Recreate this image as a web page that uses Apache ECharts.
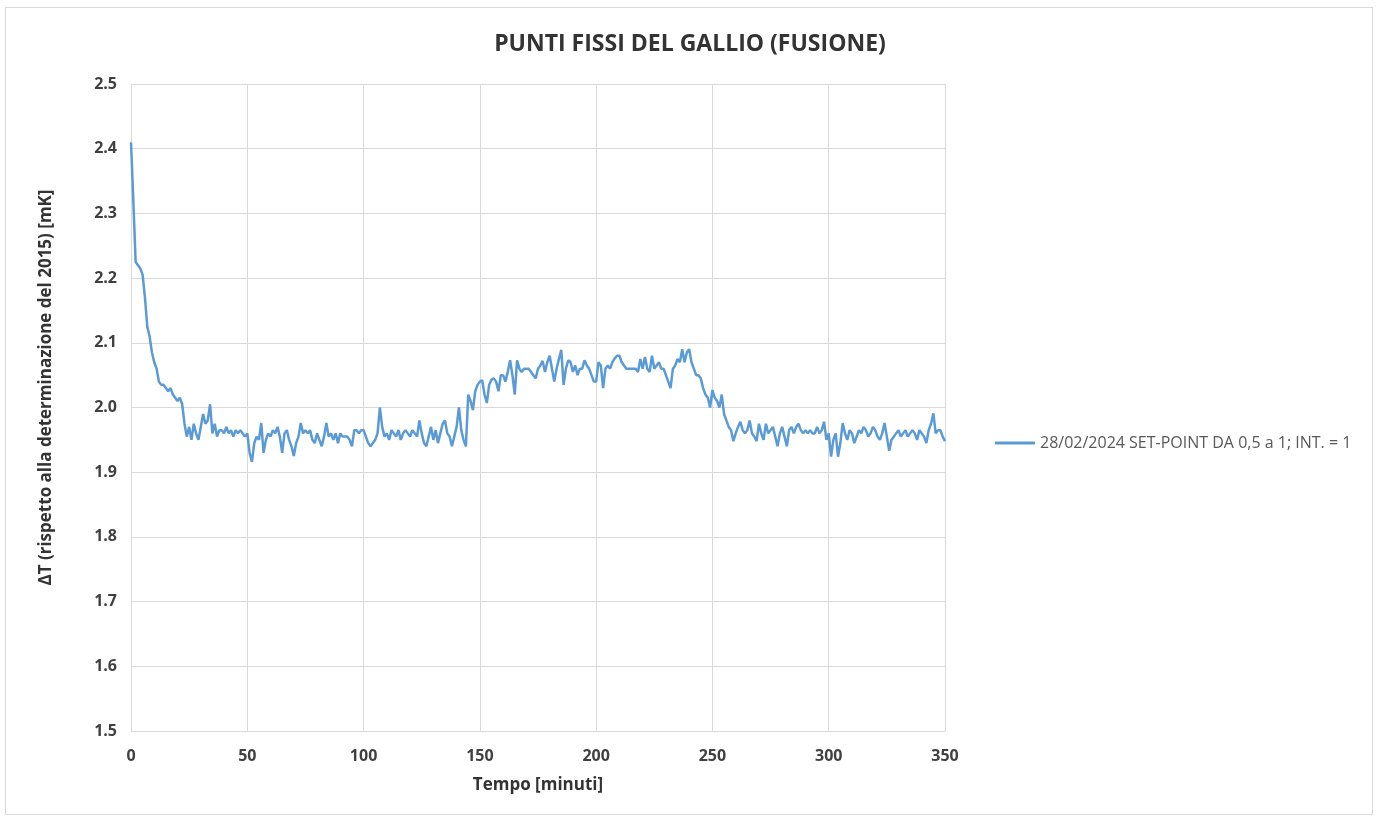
<!DOCTYPE html>
<html>
<head>
<meta charset="utf-8">
<title>Punti fissi del gallio</title>
<script src="https://cdn.jsdelivr.net/npm/echarts@6/dist/echarts.min.js"></script>
<style>
  html, body { margin: 0; padding: 0; background: #fff; }
  #chart { width: 1380px; height: 821px; }
  #frame { position: absolute; left: 5px; top: 7px; width: 1366px; height: 806px;
           border: 1px solid #d9d9d9; pointer-events: none; }
</style>
</head>
<body>
<div id="chart"></div>
<div id="frame"></div>
<script>
// tempo in minuti: un punto al minuto, da 0 a 350
var deltaT = [
  2.41, 2.32, 2.225, 2.22, 2.215, 2.205, 2.17, 2.125, 2.11, 2.085,
  2.07, 2.06, 2.04, 2.035, 2.035, 2.03, 2.025, 2.03, 2.02, 2.015,
  2.01, 2.015, 2.005, 1.975, 1.955, 1.97, 1.95, 1.975, 1.96, 1.95,
  1.97, 1.99, 1.975, 1.98, 2.005, 1.96, 1.975, 1.955, 1.965, 1.965,
  1.96, 1.97, 1.96, 1.965, 1.955, 1.965, 1.96, 1.965, 1.96, 1.955,
  1.96, 1.93, 1.916, 1.945, 1.955, 1.95, 1.976, 1.93, 1.95, 1.96,
  1.955, 1.965, 1.96, 1.97, 1.955, 1.93, 1.96, 1.965, 1.95, 1.94,
  1.925, 1.945, 1.955, 1.976, 1.96, 1.965, 1.96, 1.965, 1.95, 1.945,
  1.96, 1.95, 1.94, 1.955, 1.976, 1.955, 1.96, 1.95, 1.96, 1.945,
  1.96, 1.955, 1.955, 1.955, 1.95, 1.94, 1.965, 1.965, 1.96, 1.965,
  1.965, 1.955, 1.945, 1.94, 1.945, 1.95, 1.96, 2.0, 1.97, 1.955,
  1.96, 1.95, 1.965, 1.96, 1.955, 1.965, 1.95, 1.96, 1.965, 1.96,
  1.955, 1.965, 1.96, 1.955, 1.98, 1.96, 1.945, 1.94, 1.955, 1.97,
  1.95, 1.965, 1.945, 1.96, 1.975, 1.98, 1.96, 1.955, 1.94, 1.955,
  1.97, 2.0, 1.965, 1.95, 1.94, 2.02, 2.01, 1.996, 2.025, 2.035,
  2.04, 2.042, 2.02, 2.007, 2.035, 2.043, 2.045, 2.04, 2.025, 2.05,
  2.05, 2.04, 2.055, 2.073, 2.05, 2.02, 2.073, 2.06, 2.055, 2.06,
  2.06, 2.06, 2.055, 2.05, 2.045, 2.06, 2.065, 2.072, 2.055, 2.07,
  2.08, 2.06, 2.04, 2.06, 2.075, 2.089, 2.035, 2.06, 2.073, 2.07,
  2.055, 2.065, 2.05, 2.06, 2.06, 2.073, 2.065, 2.06, 2.05, 2.04,
  2.04, 2.07, 2.065, 2.03, 2.06, 2.065, 2.06, 2.07, 2.076, 2.08,
  2.08, 2.07, 2.065, 2.06, 2.06, 2.06, 2.06, 2.06, 2.055, 2.075,
  2.06, 2.078, 2.06, 2.055, 2.08, 2.06, 2.065, 2.07, 2.06, 2.06,
  2.05, 2.04, 2.03, 2.06, 2.065, 2.075, 2.07, 2.09, 2.07, 2.085,
  2.09, 2.07, 2.06, 2.05, 2.05, 2.045, 2.03, 2.02, 2.015, 2.0,
  2.027, 2.015, 2.01, 2.0, 2.02, 1.99, 1.98, 1.97, 1.965, 1.948,
  1.96, 1.97, 1.978, 1.965, 1.96, 1.965, 1.98, 1.96, 1.955, 1.948,
  1.975, 1.96, 1.95, 1.975, 1.96, 1.965, 1.97, 1.955, 1.94, 1.96,
  1.97, 1.955, 1.94, 1.965, 1.97, 1.96, 1.97, 1.975, 1.965, 1.96,
  1.965, 1.96, 1.965, 1.96, 1.96, 1.97, 1.96, 1.965, 1.978, 1.95,
  1.96, 1.924, 1.95, 1.96, 1.924, 1.945, 1.976, 1.96, 1.95, 1.965,
  1.96, 1.945, 1.955, 1.965, 1.96, 1.97, 1.965, 1.955, 1.96, 1.97,
  1.965, 1.955, 1.95, 1.96, 1.976, 1.955, 1.933, 1.95, 1.955, 1.96,
  1.965, 1.955, 1.96, 1.965, 1.955, 1.96, 1.965, 1.96, 1.95, 1.965,
  1.96, 1.955, 1.945, 1.965, 1.975, 1.991, 1.96, 1.965, 1.965, 1.955,
  1.948
];
var serieName = "28/02/2024 SET-POINT DA 0,5 a 1; INT. = 1";

var punti = [];
for (var i = 0; i < deltaT.length; i++) {
  punti.push([i, deltaT[i]]);
}

var chart = echarts.init(document.getElementById("chart"));
chart.setOption({
  animation: false,
  textStyle: { fontFamily: "Open Sans" },
  title: {
    text: "PUNTI FISSI DEL GALLIO (FUSIONE)",
    left: "center",
    top: 28,
    textStyle: { color: "#333333", fontSize: 23, fontWeight: "bold", fontFamily: "Open Sans" }
  },
  legend: {
    orient: "vertical",
    left: 990,
    top: 430,
    icon: "rect",
    itemWidth: 40,
    itemHeight: 3,
    itemGap: 5,
    textStyle: { color: "#595959", fontSize: 16 },
    data: [serieName]
  },
  grid: { left: 131, right: 435, top: 84, bottom: 90 },
  xAxis: {
    type: "value",
    min: 0,
    max: 350,
    interval: 50,
    name: "Tempo [minuti]",
    nameLocation: "middle",
    nameGap: 46,
    nameTextStyle: { color: "#333333", fontSize: 17, fontWeight: "bold" },
    axisLine: { show: true, lineStyle: { color: "#d9d9d9" } },
    axisTick: { show: false },
    axisLabel: { color: "#404040", fontSize: 16, fontWeight: "bold", margin: 17 },
    splitLine: { show: true, lineStyle: { color: "#d9d9d9" } }
  },
  yAxis: {
    type: "value",
    min: 1.5,
    max: 2.5,
    interval: 0.1,
    name: "\u0394T (rispetto alla determinazione del 2015) [mK]",
    nameLocation: "middle",
    nameGap: 76,
    nameTextStyle: { color: "#333333", fontSize: 17, fontWeight: "bold", padding: [0, 0, 0, 40] },
    axisLine: { show: true, lineStyle: { color: "#d9d9d9" } },
    axisTick: { show: false },
    axisLabel: {
      color: "#404040", fontSize: 16, fontWeight: "bold", margin: 14,
      formatter: function (v) { return v.toFixed(1); }
    },
    splitLine: { show: true, lineStyle: { color: "#d9d9d9" } }
  },
  series: [{
    name: serieName,
    type: "line",
    data: punti,
    showSymbol: false,
    symbol: "none",
    lineStyle: { color: "#5b9bd5", width: 2.5 },
    itemStyle: { color: "#5b9bd5" }
  }]
});
</script>
</body>
</html>
